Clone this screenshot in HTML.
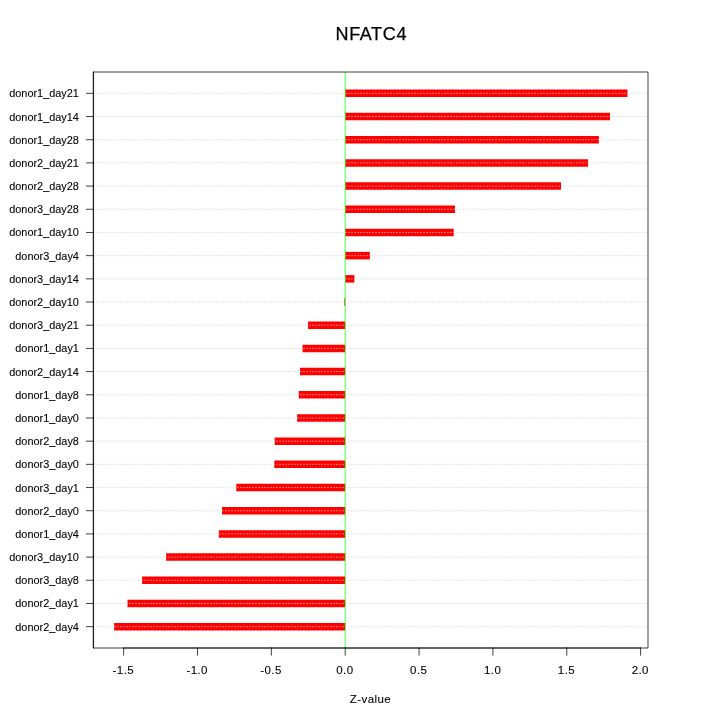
<!DOCTYPE html>
<html><head><meta charset="utf-8"><title>NFATC4</title>
<style>
html,body{margin:0;padding:0;background:#fff;}
svg{display:block;will-change:transform;}
g.t{filter:grayscale(1);}
text{font-family:"Liberation Sans",sans-serif;fill:#000;stroke:#000;stroke-width:0.1px;}
</style></head><body>
<svg width="720" height="720" viewBox="0 0 720 720">
<rect x="0" y="0" width="720" height="720" fill="#ffffff"/>
<g stroke="#ff0000" stroke-width="7.5" stroke-linecap="butt" fill="none">
<line x1="345.20" y1="93.33" x2="627.47" y2="93.33"/>
<line x1="345.20" y1="116.52" x2="610.00" y2="116.52"/>
<line x1="345.20" y1="139.71" x2="598.90" y2="139.71"/>
<line x1="345.20" y1="162.90" x2="588.05" y2="162.90"/>
<line x1="345.20" y1="186.09" x2="561.00" y2="186.09"/>
<line x1="345.20" y1="209.28" x2="455.00" y2="209.28"/>
<line x1="345.20" y1="232.46" x2="453.70" y2="232.46"/>
<line x1="345.20" y1="255.65" x2="369.90" y2="255.65"/>
<line x1="345.20" y1="278.84" x2="354.40" y2="278.84"/>
<line x1="345.20" y1="302.03" x2="344.40" y2="302.03"/>
<line x1="345.20" y1="325.22" x2="308.05" y2="325.22"/>
<line x1="345.20" y1="348.41" x2="302.50" y2="348.41"/>
<line x1="345.20" y1="371.59" x2="300.00" y2="371.59"/>
<line x1="345.20" y1="394.78" x2="298.75" y2="394.78"/>
<line x1="345.20" y1="417.97" x2="297.10" y2="417.97"/>
<line x1="345.20" y1="441.16" x2="274.70" y2="441.16"/>
<line x1="345.20" y1="464.35" x2="274.30" y2="464.35"/>
<line x1="345.20" y1="487.54" x2="236.30" y2="487.54"/>
<line x1="345.20" y1="510.72" x2="222.00" y2="510.72"/>
<line x1="345.20" y1="533.91" x2="218.80" y2="533.91"/>
<line x1="345.20" y1="557.10" x2="166.10" y2="557.10"/>
<line x1="345.20" y1="580.29" x2="142.10" y2="580.29"/>
<line x1="345.20" y1="603.48" x2="127.50" y2="603.48"/>
<line x1="345.20" y1="626.67" x2="114.13" y2="626.67"/>
</g>
<g stroke="#d3d3d3" stroke-width="0.75" stroke-linecap="round" stroke-dasharray="0.75 2.25" fill="none">
<line x1="93.60" y1="93.33" x2="648.00" y2="93.33"/>
<line x1="93.60" y1="116.52" x2="648.00" y2="116.52"/>
<line x1="93.60" y1="139.71" x2="648.00" y2="139.71"/>
<line x1="93.60" y1="162.90" x2="648.00" y2="162.90"/>
<line x1="93.60" y1="186.09" x2="648.00" y2="186.09"/>
<line x1="93.60" y1="209.28" x2="648.00" y2="209.28"/>
<line x1="93.60" y1="232.46" x2="648.00" y2="232.46"/>
<line x1="93.60" y1="255.65" x2="648.00" y2="255.65"/>
<line x1="93.60" y1="278.84" x2="648.00" y2="278.84"/>
<line x1="93.60" y1="302.03" x2="648.00" y2="302.03"/>
<line x1="93.60" y1="325.22" x2="648.00" y2="325.22"/>
<line x1="93.60" y1="348.41" x2="648.00" y2="348.41"/>
<line x1="93.60" y1="371.59" x2="648.00" y2="371.59"/>
<line x1="93.60" y1="394.78" x2="648.00" y2="394.78"/>
<line x1="93.60" y1="417.97" x2="648.00" y2="417.97"/>
<line x1="93.60" y1="441.16" x2="648.00" y2="441.16"/>
<line x1="93.60" y1="464.35" x2="648.00" y2="464.35"/>
<line x1="93.60" y1="487.54" x2="648.00" y2="487.54"/>
<line x1="93.60" y1="510.72" x2="648.00" y2="510.72"/>
<line x1="93.60" y1="533.91" x2="648.00" y2="533.91"/>
<line x1="93.60" y1="557.10" x2="648.00" y2="557.10"/>
<line x1="93.60" y1="580.29" x2="648.00" y2="580.29"/>
<line x1="93.60" y1="603.48" x2="648.00" y2="603.48"/>
<line x1="93.60" y1="626.67" x2="648.00" y2="626.67"/>
</g>
<line x1="345.20" y1="72.0" x2="345.20" y2="648.0" stroke="#00ff00" stroke-width="0.75"/>
<g stroke="#000" stroke-width="0.75" stroke-linecap="round" stroke-linejoin="round" fill="none">
<rect x="93.6" y="72.0" width="554.40" height="576.00"/>
<path d="M123.63 648.0H640.62M123.63 648.0v7.2M197.49 648.0v7.2M271.34 648.0v7.2M345.20 648.0v7.2M419.06 648.0v7.2M492.91 648.0v7.2M566.76 648.0v7.2M640.62 648.0v7.2"/>
<path d="M93.6 72.0V648.0M93.6 93.33h-7.2M93.6 116.52h-7.2M93.6 139.71h-7.2M93.6 162.90h-7.2M93.6 186.09h-7.2M93.6 209.28h-7.2M93.6 232.46h-7.2M93.6 255.65h-7.2M93.6 278.84h-7.2M93.6 302.03h-7.2M93.6 325.22h-7.2M93.6 348.41h-7.2M93.6 371.59h-7.2M93.6 394.78h-7.2M93.6 417.97h-7.2M93.6 441.16h-7.2M93.6 464.35h-7.2M93.6 487.54h-7.2M93.6 510.72h-7.2M93.6 533.91h-7.2M93.6 557.10h-7.2M93.6 580.29h-7.2M93.6 603.48h-7.2M93.6 626.67h-7.2"/>
</g>
<g class="t">
<text x="371.3" y="40" font-size="18" letter-spacing="0.65" style="stroke-width:0.25px" text-anchor="middle">NFATC4</text>
<text x="370.5" y="703.3" font-size="11.5" letter-spacing="0.43" text-anchor="middle">Z-value</text>
<g font-size="11.5" letter-spacing="0.43" text-anchor="middle">
<text x="123.33" y="674.2">-1.5</text>
<text x="197.19" y="674.2">-1.0</text>
<text x="271.04" y="674.2">-0.5</text>
<text x="344.90" y="674.2">0.0</text>
<text x="418.75" y="674.2">0.5</text>
<text x="492.61" y="674.2">1.0</text>
<text x="566.47" y="674.2">1.5</text>
<text x="640.32" y="674.2">2.0</text>
</g>
<g font-size="10.9" text-anchor="end">
<text x="78.9" y="97">donor1_day21</text>
<text x="78.9" y="121">donor1_day14</text>
<text x="78.9" y="144">donor1_day28</text>
<text x="78.9" y="167">donor2_day21</text>
<text x="78.9" y="190">donor2_day28</text>
<text x="78.9" y="213">donor3_day28</text>
<text x="78.9" y="236">donor1_day10</text>
<text x="78.9" y="260">donor3_day4</text>
<text x="78.9" y="283">donor3_day14</text>
<text x="78.9" y="306">donor2_day10</text>
<text x="78.9" y="329">donor3_day21</text>
<text x="78.9" y="352">donor1_day1</text>
<text x="78.9" y="376">donor2_day14</text>
<text x="78.9" y="399">donor1_day8</text>
<text x="78.9" y="422">donor1_day0</text>
<text x="78.9" y="445">donor2_day8</text>
<text x="78.9" y="468">donor3_day0</text>
<text x="78.9" y="492">donor3_day1</text>
<text x="78.9" y="515">donor2_day0</text>
<text x="78.9" y="538">donor1_day4</text>
<text x="78.9" y="561">donor3_day10</text>
<text x="78.9" y="584">donor3_day8</text>
<text x="78.9" y="607">donor2_day1</text>
<text x="78.9" y="631">donor2_day4</text>
</g>
</g>
</svg>
</body></html>
